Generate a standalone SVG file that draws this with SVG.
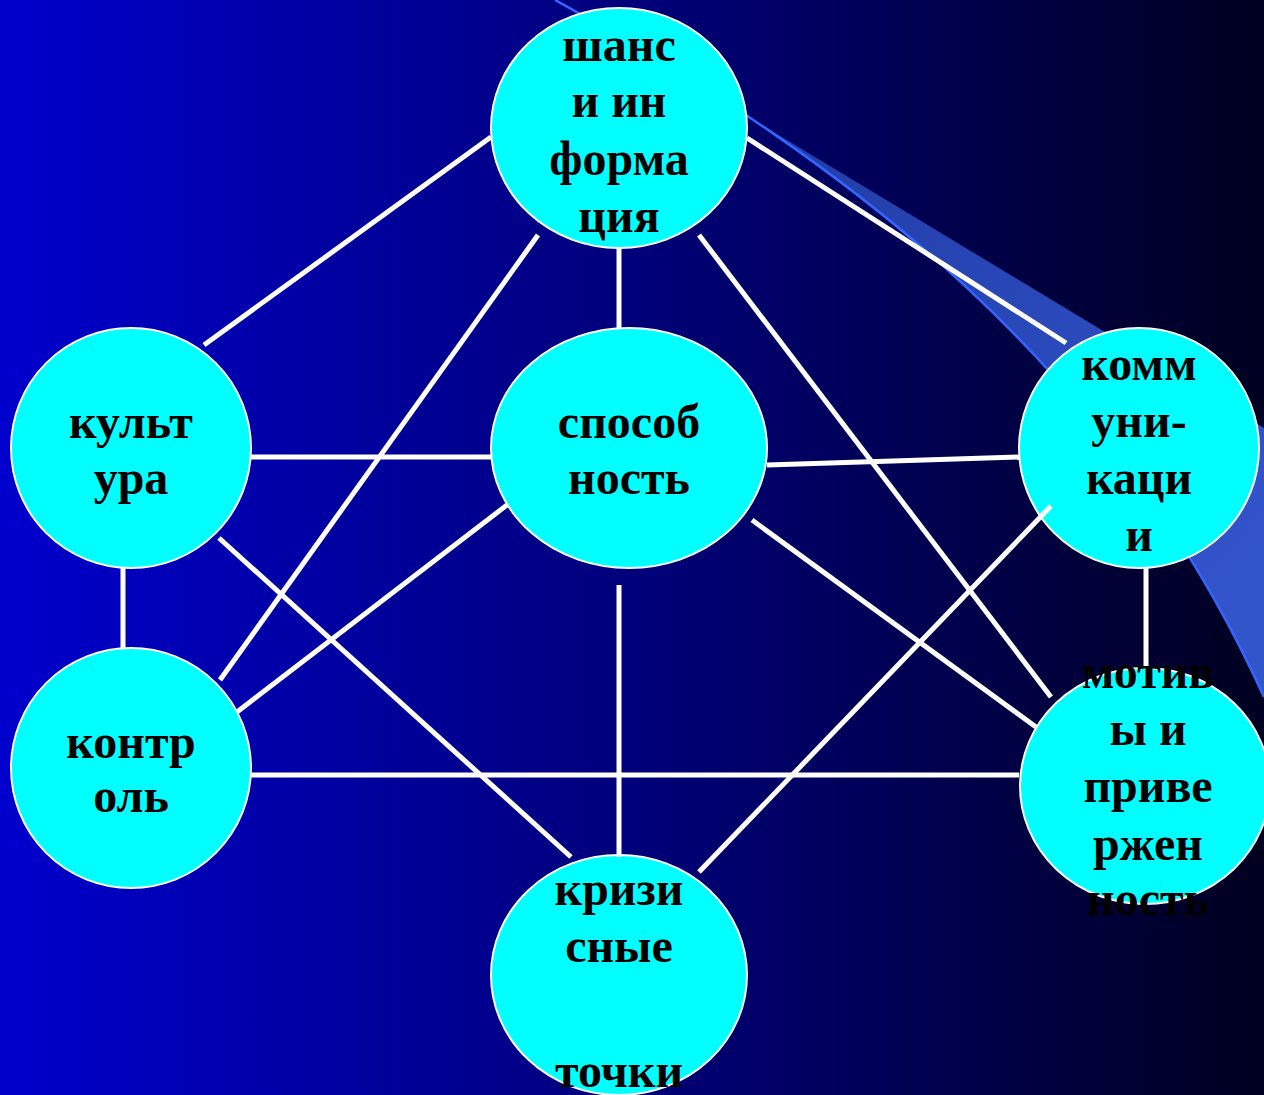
<svg xmlns="http://www.w3.org/2000/svg" width="1264" height="1095" viewBox="0 0 1264 1095">
  <defs>
    <linearGradient id="bg" x1="0" y1="0" x2="1" y2="0">
      <stop offset="0" stop-color="#0000CC"/>
      <stop offset="0.5" stop-color="#00007A"/>
      <stop offset="1" stop-color="#000020"/>
    </linearGradient>
    <linearGradient id="band" x1="555" y1="0" x2="1264" y2="600" gradientUnits="userSpaceOnUse">
      <stop offset="0" stop-color="#1A3399"/>
      <stop offset="1" stop-color="#3355CC"/>
    </linearGradient>
    <style>
      .node { fill: #00FFFF; stroke: #FFFFFF; stroke-width: 2; }
      .lbl { font-family: "Liberation Serif", "Times New Roman", serif; font-weight: bold; font-size: 48px; fill: #000000; text-anchor: middle; }
      .conn line { stroke: #FFFFFF; stroke-width: 5; }
    </style>
  </defs>

  <rect x="0" y="0" width="1264" height="1095" fill="url(#bg)"/>

  <g id="decor">
    <path d="M555,0 L1264,428 L1264,697 C1114,367 855,165 555,0 Z" fill="url(#band)"/>
    <path d="M555,0 C855,165 1114,367 1264,697" fill="none" stroke="#3366FF" stroke-width="2.5"/>
  </g>

  <g id="node-shans">
    <ellipse class="node" cx="619" cy="128" rx="128" ry="120"/>
    <text class="lbl" x="619" y="61">шанс</text>
    <text class="lbl" x="619" y="117">и ин</text>
    <text class="lbl" x="619" y="175">форма</text>
    <text class="lbl" x="619" y="232">ция</text>
  </g>

  <g id="node-kultura">
    <ellipse class="node" cx="131" cy="448" rx="120" ry="120"/>
    <text class="lbl" x="131" y="438">культ</text>
    <text class="lbl" x="131" y="494">ура</text>
  </g>

  <g id="node-sposobnost">
    <ellipse class="node" cx="629" cy="448" rx="138" ry="120"/>
    <text class="lbl" x="629" y="438">способ</text>
    <text class="lbl" x="629" y="494">ность</text>
  </g>

  <g id="node-kommunikacii">
    <ellipse class="node" cx="1139" cy="448" rx="120" ry="120"/>
    <text class="lbl" x="1139" y="380">комм</text>
    <text class="lbl" x="1139" y="437">уни-</text>
    <text class="lbl" x="1139" y="494">каци</text>
    <text class="lbl" x="1139" y="551">и</text>
  </g>

  <g id="node-kontrol">
    <ellipse class="node" cx="131" cy="768" rx="120" ry="120"/>
    <text class="lbl" x="131" y="758">контр</text>
    <text class="lbl" x="131" y="812">оль</text>
  </g>

  <g id="node-motivy">
    <ellipse class="node" cx="1145" cy="786" rx="125" ry="118"/>
    <text class="lbl" x="1148" y="688">мотив</text>
    <text class="lbl" x="1148" y="745">ы и</text>
    <text class="lbl" x="1148" y="802">приве</text>
    <text class="lbl" x="1148" y="860">ржен</text>
    <text class="lbl" x="1148" y="915">ность</text>
  </g>

  <g id="node-krizisnye">
    <ellipse class="node" cx="619" cy="975" rx="128" ry="120"/>
    <text class="lbl" x="619" y="905">кризи</text>
    <text class="lbl" x="619" y="962">сные</text>
    <text class="lbl" x="619" y="1087">точки</text>
  </g>

  <g id="connectors" class="conn">
    <line x1="491" y1="137" x2="204" y2="345"/>
    <line x1="538" y1="235" x2="220" y2="680"/>
    <line x1="619" y1="248" x2="619" y2="328"/>
    <line x1="699" y1="235" x2="1051" y2="697"/>
    <line x1="747" y1="138" x2="1066" y2="343"/>
    <line x1="251" y1="457" x2="491" y2="457"/>
    <line x1="219" y1="538" x2="571" y2="857"/>
    <line x1="123" y1="568" x2="123" y2="648"/>
    <line x1="767" y1="465" x2="1019" y2="457"/>
    <line x1="507" y1="505" x2="237" y2="712"/>
    <line x1="752" y1="520" x2="1036" y2="727"/>
    <line x1="619" y1="585" x2="619" y2="857"/>
    <line x1="1051" y1="506" x2="699" y2="872"/>
    <line x1="1146" y1="568" x2="1146" y2="666"/>
    <line x1="251" y1="775" x2="1019" y2="775"/>
  </g>
</svg>
